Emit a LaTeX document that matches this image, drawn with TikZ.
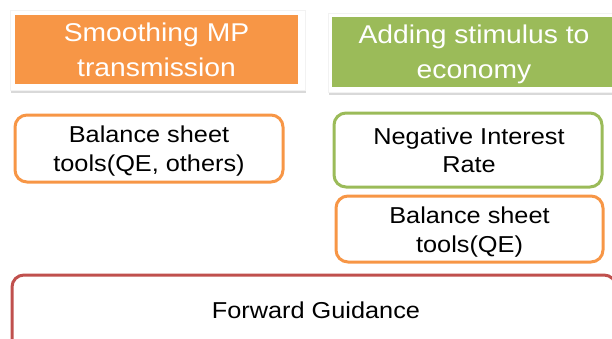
\documentclass[tikz,border=0pt]{standalone}
\usepackage{fontspec}
\setmainfont[FakeStretch=1.1]{Liberation Sans}
\usetikzlibrary{shadows}
\definecolor{mporange}{HTML}{F79646}
\definecolor{mpgreen}{HTML}{9BBB59}
\definecolor{mpred}{HTML}{C0504D}
\tikzset{
  frame/.style={fill=white, draw=black!5, line width=0.5pt,
    drop shadow={shadow xshift=0.5pt, shadow yshift=-2.5pt, opacity=0.25, fill=black!60}},
  headtext/.style={text=white, align=center, inner sep=0pt,
    font=\fontsize{25.7}{35}\selectfont},
  toolbox/.style={rounded corners=12pt, line width=3pt, fill=white},
  tooltext/.style={text=black, align=center, inner sep=0pt,
    font=\fontsize{23}{28.5}\selectfont}
}
\begin{document}
\begin{tikzpicture}[x=1pt,y=-1pt]
\useasboundingbox (0,0) rectangle (612,338);
% headers
\path[frame] (10,10) rectangle (305,90);
\fill[mporange] (15,15) rectangle (298,84);
\node[headtext, anchor=base] (h1) at (156.5,76.7) {Smoothing MP\\transmission};
\path[frame] (328,13) rectangle (622,92);
\fill[mpgreen] (332,17) rectangle (616,87);
\node[headtext, anchor=base] (h2) at (474,78.5) {Adding stimulus to\\economy};
% tools
\draw[toolbox, draw=mporange] (15,115) rectangle (283,182);
\node[tooltext, anchor=base] (b1) at (149,171) {Balance sheet\\tools(QE, others)};
\draw[toolbox, draw=mpgreen] (334,113) rectangle (602,187);
\node[tooltext, anchor=base] (n1) at (469,172.5) {Negative Interest\\Rate};
\draw[toolbox, draw=mporange] (336,196) rectangle (603,262);
\node[tooltext, anchor=base] (b2) at (469.5,252) {Balance sheet\\tools(QE)};
\draw[toolbox, draw=mpred] (12,275) rectangle (616,360);
\node[tooltext, anchor=base] (fg) at (316,318) {Forward Guidance};
\end{tikzpicture}
\end{document}
